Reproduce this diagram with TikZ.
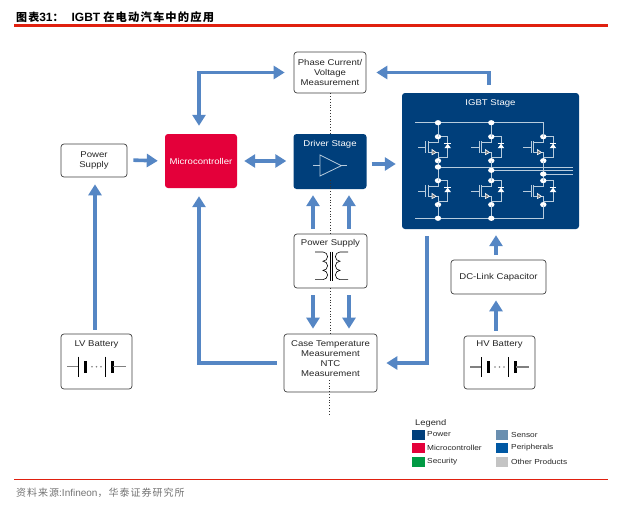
\documentclass[tikz,border=0pt]{standalone}
\usepackage{fontspec}
\setmainfont[FakeStretch=1.14]{Liberation Sans}
\newfontfamily\plainfont{Liberation Sans}
\newfontfamily\cjk[LetterSpace=10]{Noto Sans CJK SC}
\usetikzlibrary{arrows.meta}
\definecolor{flowblue}{HTML}{5586C4}
\definecolor{powerblue}{HTML}{003F7B}
\definecolor{microred}{HTML}{E4003A}
\definecolor{securegreen}{HTML}{009A44}
\definecolor{sensorblue}{HTML}{6A8FB0}
\definecolor{periphblue}{HTML}{0058A3}
\definecolor{othergray}{HTML}{C4C4C4}
\definecolor{wireblue}{HTML}{B8CCDD}
\definecolor{titlered}{RGB}{224,32,15}
\tikzset{
	flow/.style={draw=flowblue, line width=3.6pt, -{Triangle[width=13pt,length=11pt]}},
	flowboth/.style={draw=flowblue, line width=3.6pt, {Triangle[width=13pt,length=11pt]}-{Triangle[width=13pt,length=11pt]}},
	whitebox/.style={draw=black!75, fill=white, line width=0.7pt, rounded corners=3pt, inner sep=0pt, align=center, text=black!85, font=\fontsize{8.4}{9.8}\selectfont},
	darkbox/.style={fill=powerblue, rounded corners=3pt, inner sep=0pt, text=white},
	boxtext/.style={inner sep=0pt, align=center, text=black!85, font=\fontsize{8.4}{9.8}\selectfont},
	wire/.style={draw=wireblue, line width=0.8pt},
	midline/.style={draw=black!80, line width=0.8pt, dotted},
	swatch/.style={minimum width=12.5pt, minimum height=10.5pt, inner sep=0pt},
	legendtext/.style={inner sep=0pt, anchor=west, text=black!85, font=\fontsize{7.3}{9}\selectfont},
	wiredot/.style={fill=white},
	redrule/.style={fill=titlered, inner sep=0pt, minimum width=594pt},
	igbtcell/.pic={
		\draw[wire] (-20,-10.3) -- (-12.3,-10.3);
		\draw[wire] (-12.3,-4.3) -- (-12.3,-16.3);
		\draw[wire] (-9.6,-4.3) -- (-9.6,-16.3);
		\draw[wire] (-9.6,-5.3) -- (0,-5.3) -- (0,0);
		\draw[wire] (-9.6,-15.3) -- (0,-15.3) -- (0,-24);
		\draw[wire] (0,0) -- (9.7,0) -- (9.7,-20.3) -- (0,-20.3);
		\fill[white] (6.4,-11.5) -- (13,-11.5) -- (9.7,-7) -- cycle;
		\draw[white, line width=0.9pt] (6.4,-6.8) -- (13,-6.8);
		\draw[fill=black!50, draw=white, line width=0.6pt] (-6,-12.8) -- (-6,-18) -- (-1.8,-15.8) -- cycle;
		\fill[wiredot] (0,0) ellipse (3.2 and 2.6);
		\fill[wiredot] (0,-24) ellipse (3.2 and 2.6);
	},
	batterysym/.pic={
		\draw[draw=black!50, line width=1.2pt] (-29.5,0) -- (-18.5,0);
		\draw[line width=0.7pt] (-18.2,10) -- (-18.2,-10);
		\draw[line width=2.6pt] (-10.8,5.8) -- (-10.8,-5.8);
		\fill[black!50] (-4.5,0) circle (0.9);
		\fill[black!50] (0,0) circle (0.9);
		\fill[black!50] (4.5,0) circle (0.9);
		\draw[line width=0.7pt] (9.2,10) -- (9.2,-10);
		\draw[line width=2.6pt] (15.8,5.8) -- (15.8,-5.8);
		\draw[draw=black!50, line width=1.2pt] (16,0) -- (29.5,0);
	}
}
\newcommand{\cjktext}[2]{{\fontsize{#1}{12}\selectfont\cjk #2}}
\begin{document}
\begin{tikzpicture}[x=1pt,y=1pt]
\useasboundingbox (0,0) rectangle (627,-507);
	%Header and footer
	%------------------------------------------------------
	\node[inner sep=0pt, anchor=base west, font=\fontsize{12}{12}\selectfont\plainfont\bfseries] (title) at (16,-21.5)
		{\cjktext{11}{图表}31\cjktext{11}{：}\hspace{8pt}IGBT\hspace{3pt}\cjktext{11.3}{在电动汽车中的应用}};
	\node[inner sep=0pt, anchor=base west, text=black!55, font=\fontsize{10}{11}\selectfont\plainfont] (source) at (16,-496)
		{\cjktext{10}{资料来源}:Infineon\cjktext{10}{，华泰证券研究所}};

	%Boxes
	%------------------------------------------------------
	\node[whitebox, minimum width=72pt, minimum height=41pt] (phase) at (330,-72.5) {Phase Current/\\Voltage\\Measurement};
	\node[fill=microred, rounded corners=3pt, minimum width=72pt, minimum height=54pt, text=white, inner sep=0pt, font=\fontsize{8.4}{9.8}\selectfont] (micro) at (201,-161) {Microcontroller};
	\node[darkbox, minimum width=73pt, minimum height=55pt] (driver) at (330,-161.5) {};
	\node[boxtext, text=white] (driverlabel) at (330,-144.5) {Driver Stage};
	\node[darkbox, minimum width=177pt, minimum height=136pt] (igbt) at (490.5,-161) {};
	\node[boxtext, text=white] (igbtlabel) at (490.5,-103) {IGBT Stage};
	\node[whitebox, minimum width=66pt, minimum height=33pt] (supplyleft) at (94,-160.5) {Power\\Supply};
	\node[whitebox, minimum width=71pt, minimum height=55pt] (lvbat) at (96.5,-361.5) {};
	\node[boxtext] (lvlabel) at (96.5,-344) {LV Battery};
	\node[whitebox, minimum width=73pt, minimum height=54pt] (supplymid) at (330.5,-261) {};
	\node[boxtext] (supplylabel) at (330.5,-243) {Power Supply};
	\node[whitebox, minimum width=93pt, minimum height=58pt] (casetemp) at (330.5,-363) {};
	\node[boxtext] (caselabel) at (330.5,-358.5) {Case Temperature\\Measurement\\NTC\\Measurement};
	\node[whitebox, minimum width=95pt, minimum height=34pt] (dclink) at (498.5,-277) {DC-Link Capacitor};
	\node[whitebox, minimum width=71pt, minimum height=53pt] (hvbat) at (499.5,-362.5) {};
	\node[boxtext] (hvlabel) at (499.5,-344) {HV Battery};

	%Arrows
	%------------------------------------------------------
	\draw[flowboth, shorten <=8pt, shorten >=9pt] ([xshift=-2pt]micro.north) |- (phase.west);
	\draw[flow, shorten <=8pt, shorten >=10pt] ([xshift=-1.5pt]igbt.north) |- (phase.east);
	\draw[flow, shorten <=6pt, shorten >=7pt] ([yshift=0.5pt]supplyleft.east) -- (micro.west);
	\draw[flowboth, shorten <=7pt, shorten >=7pt] (micro.east) -- ([yshift=0.5pt]driver.west);
	\draw[flow, shorten <=5pt, shorten >=6pt] ([yshift=-2.5pt]driver.east) -- ([yshift=-3pt]igbt.west);
	\draw[flow, shorten <=4pt, shorten >=7pt] ([xshift=-1.5pt]lvbat.north) -- ([xshift=1pt]supplyleft.south);
	\draw[flow, shorten <=7pt, shorten >=8pt] (casetemp.west) -| ([xshift=-2pt]micro.south);
	\draw[flow, shorten <=5pt, shorten >=6pt] ([xshift=-17.5pt]supplymid.north) -- ([xshift=-17pt]driver.south);
	\draw[flow, shorten <=5pt, shorten >=6pt] ([xshift=18.5pt]supplymid.north) -- ([xshift=19pt]driver.south);
	\draw[flow, shorten <=7pt, shorten >=5pt] ([xshift=-17.5pt]supplymid.south) -- ([xshift=-17.5pt]casetemp.north);
	\draw[flow, shorten <=7pt, shorten >=5pt] ([xshift=18.5pt]supplymid.south) -- ([xshift=18.5pt]casetemp.north);
	\draw[flow, shorten <=7pt, shorten >=9pt] ([xshift=-63.5pt]igbt.south) |- (casetemp.east);
	\draw[flow, shorten <=5pt, shorten >=6pt] ([xshift=-2.5pt]dclink.north) -- ([xshift=5.5pt]igbt.south);
	\draw[flow, shorten <=5pt, shorten >=6pt] ([xshift=-3.5pt]hvbat.north) -- ([xshift=-2.5pt]dclink.south);

	%Dotted middle line
	%------------------------------------------------------
	\draw[midline] (phase.south) -- (driver.north);
	\draw[midline] (330,-180) -- (supplymid.north -| 330,0);
	\draw[midline] (supplymid.south -| 330,0) -- (casetemp.north -| 330,0);
	\draw[midline] (329.5,-380) -- (329.5,-414);

	%Driver symbol
	%------------------------------------------------------
	\draw[wire] (320,-155) -- (341.3,-165.7) -- (320,-176) -- cycle;
	\draw[wire] (313.3,-165.7) -- (320,-165.7);
	\draw[wire] (341.3,-165.7) -- (347.3,-165.7);

	%IGBT cells
	%------------------------------------------------------
	\pic at (438,-136.7) {igbtcell};
	\pic at (491.3,-136.7) {igbtcell};
	\pic at (543.3,-136.7) {igbtcell};
	\pic at (438,-180.6) {igbtcell};
	\pic at (491.3,-180.6) {igbtcell};
	\pic at (543.3,-180.6) {igbtcell};

	%Rails
	\draw[wire] (415,-122.7) -- (543.3,-122.7) -- (543.3,-136.7);
	\draw[wire] (415,-218.3) -- (543.3,-218.3) -- (543.3,-204.6);
	\draw[wire] (438,-122.7) -- (438,-136.7);
	\draw[wire] (491.3,-122.7) -- (491.3,-136.7);
	\draw[wire] (438,-160.7) -- (438,-180.6);
	\draw[wire] (491.3,-160.7) -- (491.3,-180.6);
	\draw[wire] (543.3,-160.7) -- (543.3,-180.6);
	\draw[wire] (438,-204.6) -- (438,-218.3);
	\draw[wire] (491.3,-204.6) -- (491.3,-218.3);
	\draw[wire] (438,-167) -- (572.7,-167);
	\draw[wire] (491.3,-170.3) -- (572.7,-170.3);
	\draw[wire] (543.3,-174) -- (572.7,-174);
	\fill[wiredot] (438,-122.7) ellipse (3.2 and 2.6);
	\fill[wiredot] (491.3,-122.7) ellipse (3.2 and 2.6);
	\fill[wiredot] (438,-167) ellipse (3.2 and 2.6);
	\fill[wiredot] (491.3,-170.3) ellipse (3.2 and 2.6);
	\fill[wiredot] (543.3,-174) ellipse (3.2 and 2.6);
	\fill[wiredot] (438,-218.3) ellipse (3.2 and 2.6);
	\fill[wiredot] (491.3,-218.3) ellipse (3.2 and 2.6);

	%Transformer
	%------------------------------------------------------
	\draw[line width=0.6pt] (315,-252) -- (323,-252) arc(90:-90:4.6) arc(90:-90:4.6) arc(90:-90:4.6) -- (315,-279.6);
	\draw[line width=0.6pt] (348,-252) -- (340,-252) arc(90:270:4.6) arc(90:270:4.6) arc(90:270:4.6) -- (348,-279.6);
	\draw[line width=1.2pt] (330.8,-251.5) -- (330.8,-281);
	\draw[line width=1.2pt] (332.6,-251.5) -- (332.6,-281);

	%Batteries
	%------------------------------------------------------
	\pic at (96.5,-366.7) {batterysym};
	\pic at (499.5,-367) {batterysym};

	%Legend
	%------------------------------------------------------
	\node[inner sep=0pt, anchor=west, text=black!85, font=\fontsize{8.2}{10}\selectfont] (legendtitle) at (415,-423.5) {Legend};
	\node[swatch, fill=powerblue] (swpower) at (418.5,-435) {};
	\node[swatch, fill=microred] (swmicro) at (418.5,-448) {};
	\node[swatch, fill=securegreen] (swsecure) at (418.5,-462) {};
	\node[swatch, fill=sensorblue] (swsensor) at (502,-435) {};
	\node[swatch, fill=periphblue] (swperiph) at (502,-448) {};
	\node[swatch, fill=othergray] (swother) at (502,-462) {};
	\node[legendtext] (txpower) at (427,-434.5) {Power};
	\node[legendtext] (txmicro) at (427,-448) {Microcontroller};
	\node[legendtext] (txsecure) at (427,-461.5) {Security};
	\node[legendtext] (txsensor) at (511,-434.5) {Sensor};
	\node[legendtext] (txperiph) at (511,-448) {Peripherals};
	\node[legendtext] (txother) at (511,-461.5) {Other Products};

	%Red rules
	%------------------------------------------------------
	\node[redrule, minimum height=2.2pt] (ruletop) at (311,-25.5) {};
	\node[redrule, minimum height=1.5pt] (rulebottom) at (311,-479.5) {};
\end{tikzpicture}
\end{document}
